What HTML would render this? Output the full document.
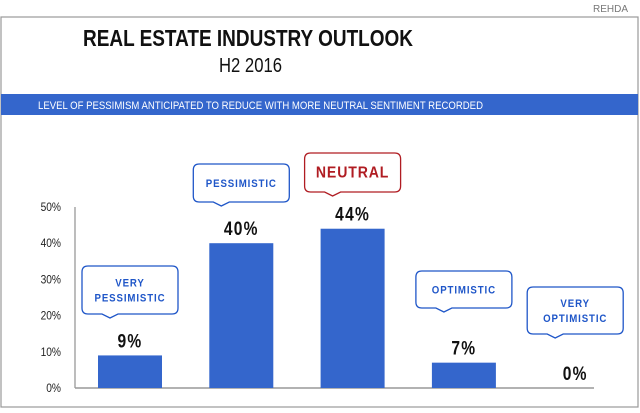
<!DOCTYPE html>
<html><head><meta charset="utf-8"><style>
body{margin:0;background:#fff;width:640px;height:408px;overflow:hidden;font-family:"Liberation Sans",sans-serif}
</style></head><body>
<svg width="640" height="408" viewBox="0 0 640 408" xmlns="http://www.w3.org/2000/svg" font-family="Liberation Sans, sans-serif">
<text x="628" y="12" font-size="10" fill="#777" text-anchor="end">REHDA</text>
<rect x="1" y="17" width="637" height="390" fill="#fff" stroke="#999" stroke-width="1.2"/>
<text x="83" y="46" font-size="23" font-weight="bold" textLength="330" lengthAdjust="spacingAndGlyphs" fill="#111">REAL ESTATE INDUSTRY OUTLOOK</text>
<text x="219" y="72" font-size="20" textLength="63" lengthAdjust="spacingAndGlyphs" fill="#111">H2 2016</text>
<rect x="1" y="94" width="637" height="21" fill="#3466cc"/>
<text x="38" y="109" font-size="11" textLength="445" lengthAdjust="spacingAndGlyphs" fill="#fff">LEVEL OF PESSIMISM  ANTICIPATED TO REDUCE WITH MORE NEUTRAL SENTIMENT RECORDED</text>
<g id="axes"></g>
<g id="bars"></g>
</svg>
<script>
const categories=[["VERY","PESSIMISTIC"],["PESSIMISTIC"],["NEUTRAL"],["OPTIMISTIC"],["VERY","OPTIMISTIC"]];
const values=[9,40,44,7,0];
const valueLabels=["9%","40%","44%","7%","0%"];
const ticks=[0,10,20,30,40,50];
const tickLabels=["0%","10%","20%","30%","40%","50%"];
const bubbleY=[[266,314],[164,202],[153,192],[271,308],[287,334]];
const NS="http://www.w3.org/2000/svg";
const svg=document.querySelector('svg');
const x0=75,base=388,top50=207;
const y=v=>base-(base-top50)*v/50;
const xc=i=>130+111.3*i;
const bw=64;
function mk(t,a,p){const e=document.createElementNS(NS,t);for(const k in a)e.setAttribute(k,a[k]);(p||svg).appendChild(e);return e;}
const ax=document.getElementById('axes'),bg=document.getElementById('bars');
let l=mk('line',{x1:x0,y1:top50,x2:x0,y2:base,stroke:'#999','stroke-width':1.3},ax);


l=mk('line',{x1:x0,y1:base,x2:594,y2:base,stroke:'#999','stroke-width':1.5},ax);


ticks.forEach((t,i)=>{const e=mk('text',{x:61,y:y(t)+4,'font-size':12,'text-anchor':'end',fill:'#222',transform:`translate(61,0) scale(0.85,1) translate(-61,0)`},ax);e.textContent=tickLabels[i];

});
values.forEach((v,i)=>{
 const cx=xc(i);
 if(v>0){const r=mk('rect',{x:cx-bw/2,y:y(v),width:bw,height:base-y(v),fill:'#3466cc'},bg);
 
 }
 const t=mk('text',{x:cx,y:y(v)-8,'font-size':19,'font-weight':'bold','text-anchor':'middle','letter-spacing':1.5,fill:'#111',transform:`translate(${cx},0) scale(0.82,1) translate(${-cx},0)`},bg);
 t.textContent=valueLabels[i];
 
 
 const [b0,b1]=bubbleY[i];const red=i===2;const col=red?'#b01c22':'#1f56c8';
 const L=cx-48,R=cx+48,tx=L+28,rr=6;
 const d=`M${L+rr},${b0} H${R-rr} Q${R},${b0} ${R},${b0+rr} V${b1-rr} Q${R},${b1} ${R-rr},${b1} H${tx+8} L${tx},${b1+4} L${tx-8},${b1} H${L+rr} Q${L},${b1} ${L},${b1-rr} V${b0+rr} Q${L},${b0} ${L+rr},${b0} Z`;
 const p=mk('path',{d,fill:'#fff',stroke:col,'stroke-width':1.3},bg);
 
 
 const lines=categories[i];const mid=(b0+b1)/2;
 lines.forEach((s,j)=>{const e=mk('text',{x:cx,y:mid+(j-(lines.length-1)/2)*15+(red?5:4),'font-size':red?16:11,'font-weight':'bold','text-anchor':'middle','letter-spacing':1,fill:col,transform:`translate(${cx},0) scale(0.88,1) translate(${-cx},0)`},bg);e.textContent=s;
 
 });
});
</script>
</body></html>
